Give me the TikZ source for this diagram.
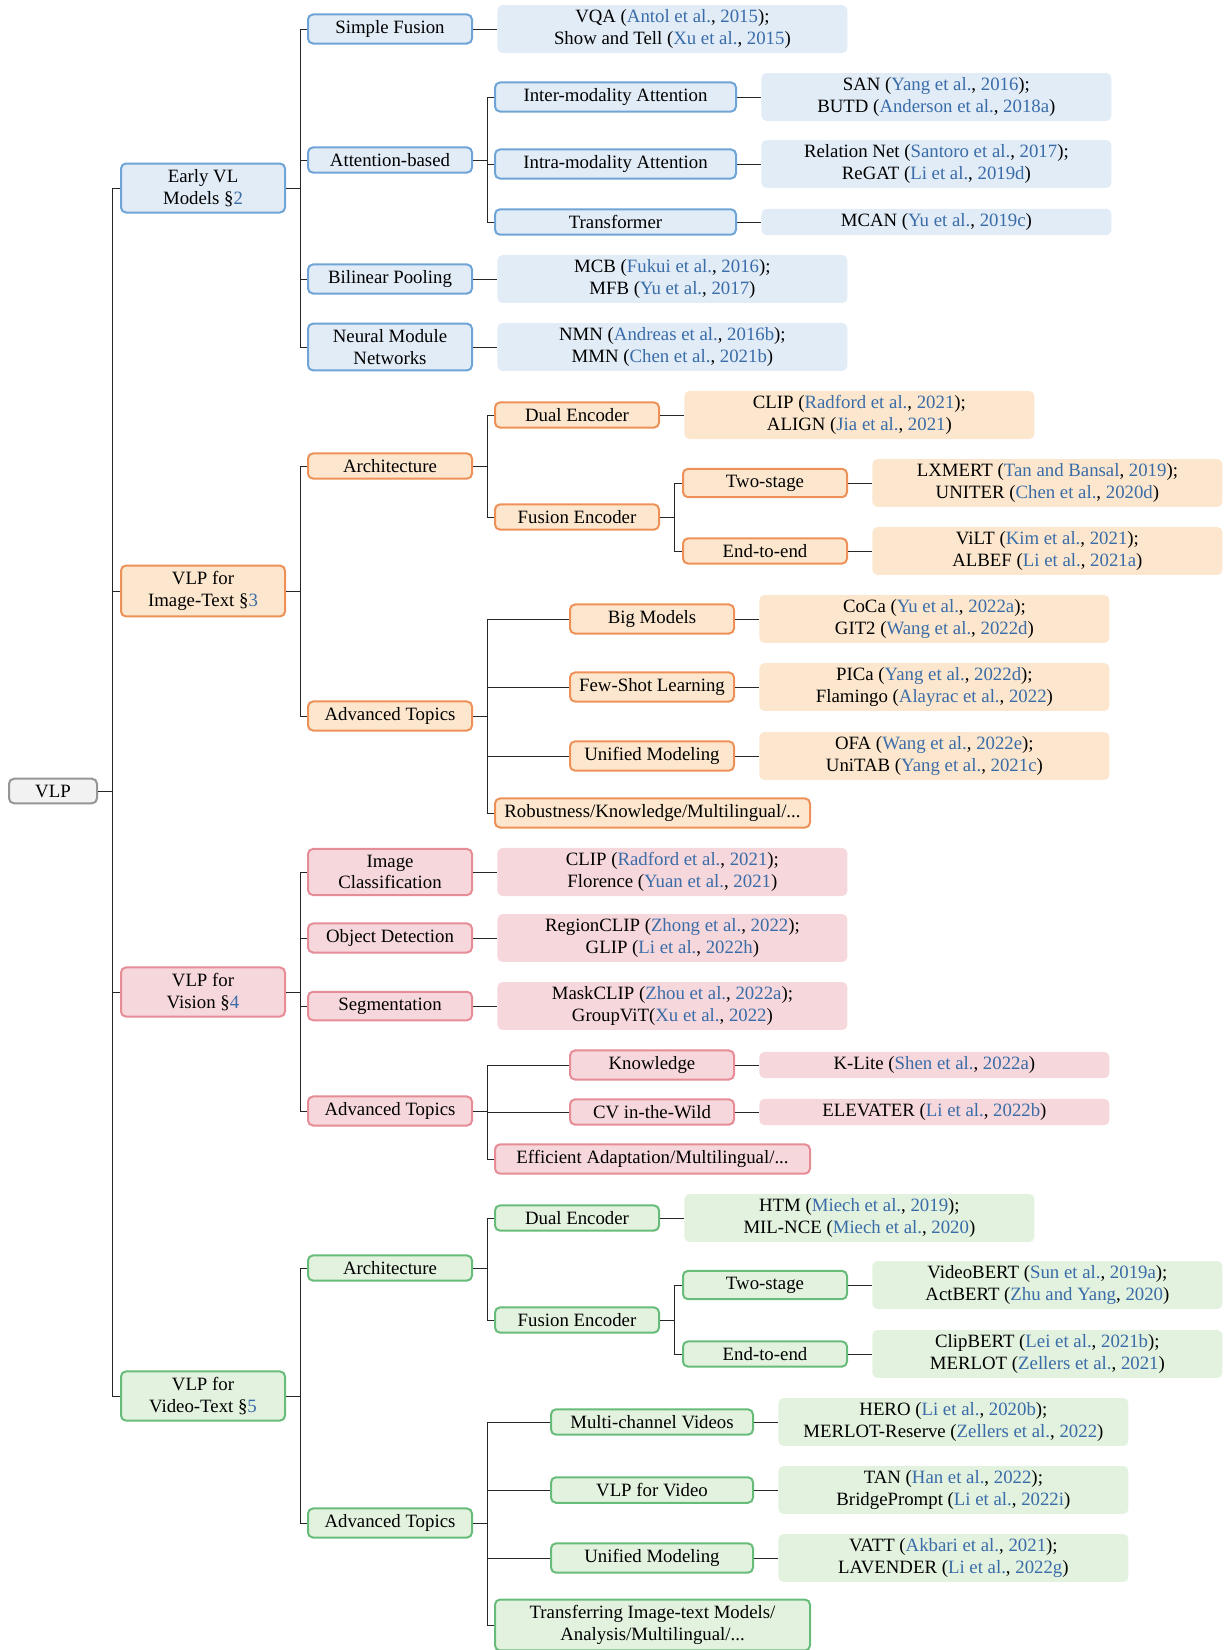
\documentclass[tikz,border=0pt]{standalone}
\usepackage{fontspec}
\setmainfont{Liberation Serif}
\usepackage{xcolor}
\usetikzlibrary{positioning}

\definecolor{citeblue}{RGB}{58,108,168}
\definecolor{grayline}{RGB}{150,150,150}
\definecolor{grayfill}{RGB}{242,242,242}
\definecolor{blueline}{RGB}{110,165,214}
\definecolor{bluefill}{RGB}{225,236,247}
\definecolor{orgline}{RGB}{238,145,88}
\definecolor{orgfill}{RGB}{252,231,206}
\definecolor{redline}{RGB}{230,140,150}
\definecolor{redfill}{RGB}{246,216,220}
\definecolor{grnline}{RGB}{104,188,122}
\definecolor{grnfill}{RGB}{226,242,223}

\newcommand{\pcite}[2]{(\textcolor{citeblue}{#1}, \textcolor{citeblue}{#2})}
\newcommand{\secref}[1]{\S\textcolor{citeblue}{#1}}

\tikzset{
  box/.style={draw=#1line, fill=#1fill, line width=1pt, rounded corners=2.5pt,
    align=center, inner xsep=2pt, inner ysep=3pt, anchor=west,
    font=\fontsize{9.4}{10.8}\selectfont},
  leaf/.style={fill=#1fill, rounded corners=2.5pt, align=center, inner ysep=2.3pt,
    minimum width=175pt, font=\fontsize{9.4}{10.8}\selectfont},
  link/.style={draw=black!85, line width=0.5pt},
}

\begin{document}
\begin{tikzpicture}[x=0.5pt,y=-0.5pt]
\useasboundingbox (0,0) rectangle (1225,1650);

\node[box=gray, minimum width=44pt] (vlp) at (8,791) {VLP};

\node[box=blue, minimum width=82pt] (early) at (120,188) {Early VL\\Models \secref{2}};
\node[box=org, minimum width=82pt] (imgtxt) at (120,591) {VLP for\\Image-Text \secref{3}};
\node[box=red, minimum width=82pt] (vision) at (120,992) {VLP for\\Vision \secref{4}};
\node[box=grn, minimum width=82pt] (video) at (120,1396) {VLP for\\Video-Text \secref{5}};

\draw[link] (vlp.east) -- ++(14,0) |- (early.west);
\draw[link] (vlp.east) -- ++(14,0) |- (imgtxt.west);
\draw[link] (vlp.east) -- ++(14,0) |- (vision.west);
\draw[link] (vlp.east) -- ++(14,0) |- (video.west);

% early VL models
\node[box=blue, minimum width=82pt] (simple) at (307,29) {Simple Fusion};
\node[box=blue, minimum width=82pt] (attn) at (307,160) {Attention-based};
\node[box=blue, minimum width=82pt] (bilin) at (307,279) {Bilinear Pooling};
\node[box=blue, minimum width=82pt] (nmn) at (307,347) {Neural Module\\Networks};
\draw[link] (early.east) -- ++(14,0) |- (simple.west);
\draw[link] (early.east) -- ++(14,0) |- (attn.west);
\draw[link] (early.east) -- ++(14,0) |- (bilin.west);
\draw[link] (early.east) -- ++(14,0) |- (nmn.west);

\node[box=blue, minimum width=120.5pt] (inter) at (494,97) {Inter-modality Attention};
\node[box=blue, minimum width=120.5pt] (intra) at (494,164) {Intra-modality Attention};
\node[box=blue, minimum width=120.5pt] (transf) at (494,222) {Transformer};
\draw[link] (attn.east) -- ++(14,0) |- (inter.west);
\draw[link] (attn.east) -- ++(14,0) |- (intra.west);
\draw[link] (attn.east) -- ++(14,0) |- (transf.west);

\node[leaf=blue, right=12pt of simple] (simpleref) {VQA \pcite{Antol et al.}{2015};\\Show and Tell \pcite{Xu et al.}{2015}};
\node[leaf=blue, right=12pt of inter] (interref) {SAN \pcite{Yang et al.}{2016};\\BUTD \pcite{Anderson et al.}{2018a}};
\node[leaf=blue, right=12pt of intra] (intraref) {Relation Net \pcite{Santoro et al.}{2017};\\ReGAT \pcite{Li et al.}{2019d}};
\node[leaf=blue, right=12pt of transf] (transfref) {MCAN \pcite{Yu et al.}{2019c}};
\node[leaf=blue, right=12pt of bilin] (bilinref) {MCB \pcite{Fukui et al.}{2016};\\MFB \pcite{Yu et al.}{2017}};
\node[leaf=blue, right=12pt of nmn] (nmnref) {NMN \pcite{Andreas et al.}{2016b};\\MMN \pcite{Chen et al.}{2021b}};
\draw[link] (simple.east) -- (simpleref.west);
\draw[link] (inter.east) -- (interref.west);
\draw[link] (intra.east) -- (intraref.west);
\draw[link] (transf.east) -- (transfref.west);
\draw[link] (bilin.east) -- (bilinref.west);
\draw[link] (nmn.east) -- (nmnref.west);

% image-text
\node[box=org, minimum width=82pt] (arch) at (307,466) {Architecture};
\node[box=org, minimum width=82pt] (adv) at (307,716) {Advanced Topics};
\draw[link] (imgtxt.east) -- ++(14,0) |- (arch.west);
\draw[link] (imgtxt.east) -- ++(14,0) |- (adv.west);

\node[box=org, minimum width=82pt] (dual) at (494,415) {Dual Encoder};
\node[box=org, minimum width=82pt] (fusion) at (494,517) {Fusion Encoder};
\draw[link] (arch.east) -- ++(14,0) |- (dual.west);
\draw[link] (arch.east) -- ++(14,0) |- (fusion.west);
\node[box=org, minimum width=82pt] (two) at (682,483) {Two-stage};
\node[box=org, minimum width=82pt] (etoe) at (682,551) {End-to-end};
\draw[link] (fusion.east) -- ++(14,0) |- (two.west);
\draw[link] (fusion.east) -- ++(14,0) |- (etoe.west);

\node[box=org, minimum width=82pt] (big) at (569,619) {Big Models};
\node[box=org, minimum width=82pt] (few) at (569,687) {Few-Shot Learning};
\node[box=org, minimum width=82pt] (unif) at (569,756) {Unified Modeling};
\node[box=org, minimum width=157.5pt] (robust) at (494,813) {Robustness/Knowledge/Multilingual/...};
\draw[link] (adv.east) -- ++(14,0) |- (big.west);
\draw[link] (adv.east) -- ++(14,0) |- (few.west);
\draw[link] (adv.east) -- ++(14,0) |- (unif.west);
\draw[link] (adv.east) -- ++(14,0) |- (robust.west);

\node[leaf=org, right=12pt of dual] (dualref) {CLIP \pcite{Radford et al.}{2021};\\ALIGN \pcite{Jia et al.}{2021}};
\node[leaf=org, right=12pt of two] (tworef) {LXMERT \pcite{Tan and Bansal}{2019};\\UNITER \pcite{Chen et al.}{2020d}};
\node[leaf=org, right=12pt of etoe] (etoeref) {ViLT \pcite{Kim et al.}{2021};\\ALBEF \pcite{Li et al.}{2021a}};
\node[leaf=org, right=12pt of big] (bigref) {CoCa \pcite{Yu et al.}{2022a};\\GIT2 \pcite{Wang et al.}{2022d}};
\node[leaf=org, right=12pt of few] (fewref) {PICa \pcite{Yang et al.}{2022d};\\Flamingo \pcite{Alayrac et al.}{2022}};
\node[leaf=org, right=12pt of unif] (unifref) {OFA \pcite{Wang et al.}{2022e};\\UniTAB \pcite{Yang et al.}{2021c}};
\draw[link] (dual.east) -- (dualref.west);
\draw[link] (two.east) -- (tworef.west);
\draw[link] (etoe.east) -- (etoeref.west);
\draw[link] (big.east) -- (bigref.west);
\draw[link] (few.east) -- (fewref.west);
\draw[link] (unif.east) -- (unifref.west);

% vision
\node[box=red, minimum width=82pt] (imgcls) at (307,872) {Image\\Classification};
\node[box=red, minimum width=82pt] (objdet) at (307,938) {Object Detection};
\node[box=red, minimum width=82pt] (seg) at (307,1006) {Segmentation};
\node[box=red, minimum width=82pt] (advr) at (307,1111) {Advanced Topics};
\draw[link] (vision.east) -- ++(14,0) |- (imgcls.west);
\draw[link] (vision.east) -- ++(14,0) |- (objdet.west);
\draw[link] (vision.east) -- ++(14,0) |- (seg.west);
\draw[link] (vision.east) -- ++(14,0) |- (advr.west);

\node[box=red, minimum width=82pt] (know) at (569,1065) {Knowledge};
\node[box=red, minimum width=82pt] (cvw) at (569,1112) {CV in-the-Wild};
\node[box=red, minimum width=157.5pt] (effic) at (494,1159) {Efficient Adaptation/Multilingual/...};
\draw[link] (advr.east) -- ++(14,0) |- (know.west);
\draw[link] (advr.east) -- ++(14,0) |- (cvw.west);
\draw[link] (advr.east) -- ++(14,0) |- (effic.west);

\node[leaf=red, right=12pt of imgcls] (imgclsref) {CLIP \pcite{Radford et al.}{2021};\\Florence \pcite{Yuan et al.}{2021}};
\node[leaf=red, right=12pt of objdet] (objdetref) {RegionCLIP \pcite{Zhong et al.}{2022};\\GLIP \pcite{Li et al.}{2022h}};
\node[leaf=red, right=12pt of seg] (segref) {MaskCLIP \pcite{Zhou et al.}{2022a};\\GroupViT\pcite{Xu et al.}{2022}};
\node[leaf=red, right=12pt of know] (knowref) {K-Lite \pcite{Shen et al.}{2022a}};
\node[leaf=red, right=12pt of cvw] (cvwref) {ELEVATER \pcite{Li et al.}{2022b}};
\draw[link] (imgcls.east) -- (imgclsref.west);
\draw[link] (objdet.east) -- (objdetref.west);
\draw[link] (seg.east) -- (segref.west);
\draw[link] (know.east) -- (knowref.west);
\draw[link] (cvw.east) -- (cvwref.west);

% video-text
\node[box=grn, minimum width=82pt] (archg) at (307,1268) {Architecture};
\node[box=grn, minimum width=82pt] (advg) at (307,1523) {Advanced Topics};
\draw[link] (video.east) -- ++(14,0) |- (archg.west);
\draw[link] (video.east) -- ++(14,0) |- (advg.west);

\node[box=grn, minimum width=82pt] (dualg) at (494,1218) {Dual Encoder};
\node[box=grn, minimum width=82pt] (fusiong) at (494,1320) {Fusion Encoder};
\draw[link] (archg.east) -- ++(14,0) |- (dualg.west);
\draw[link] (archg.east) -- ++(14,0) |- (fusiong.west);
\node[box=grn, minimum width=82pt] (twog) at (682,1285) {Two-stage};
\node[box=grn, minimum width=82pt] (etoeg) at (682,1354) {End-to-end};
\draw[link] (fusiong.east) -- ++(14,0) |- (twog.west);
\draw[link] (fusiong.east) -- ++(14,0) |- (etoeg.west);

\node[box=grn, minimum width=101pt] (multi) at (550,1422) {Multi-channel Videos};
\node[box=grn, minimum width=101pt] (vlpv) at (550,1490) {VLP for Video};
\node[box=grn, minimum width=101pt] (unifg) at (550,1558) {Unified Modeling};
\node[box=grn, minimum width=157.5pt] (transfer) at (494,1625) {Transferring Image-text Models/\\Analysis/Multilingual/...};
\draw[link] (advg.east) -- ++(14,0) |- (multi.west);
\draw[link] (advg.east) -- ++(14,0) |- (vlpv.west);
\draw[link] (advg.east) -- ++(14,0) |- (unifg.west);
\draw[link] (advg.east) -- ++(14,0) |- (transfer.west);

\node[leaf=grn, right=12pt of dualg] (dualgref) {HTM \pcite{Miech et al.}{2019};\\MIL-NCE \pcite{Miech et al.}{2020}};
\node[leaf=grn, right=12pt of twog] (twogref) {VideoBERT \pcite{Sun et al.}{2019a};\\ActBERT \pcite{Zhu and Yang}{2020}};
\node[leaf=grn, right=12pt of etoeg] (etoegref) {ClipBERT \pcite{Lei et al.}{2021b};\\MERLOT \pcite{Zellers et al.}{2021}};
\node[leaf=grn, right=12pt of multi] (multiref) {HERO \pcite{Li et al.}{2020b};\\MERLOT-Reserve \pcite{Zellers et al.}{2022}};
\node[leaf=grn, right=12pt of vlpv] (vlpvref) {TAN \pcite{Han et al.}{2022};\\BridgePrompt \pcite{Li et al.}{2022i}};
\node[leaf=grn, right=12pt of unifg] (unifgref) {VATT \pcite{Akbari et al.}{2021};\\LAVENDER \pcite{Li et al.}{2022g}};
\draw[link] (dualg.east) -- (dualgref.west);
\draw[link] (twog.east) -- (twogref.west);
\draw[link] (etoeg.east) -- (etoegref.west);
\draw[link] (multi.east) -- (multiref.west);
\draw[link] (vlpv.east) -- (vlpvref.west);
\draw[link] (unifg.east) -- (unifgref.west);
\end{tikzpicture}
\end{document}
